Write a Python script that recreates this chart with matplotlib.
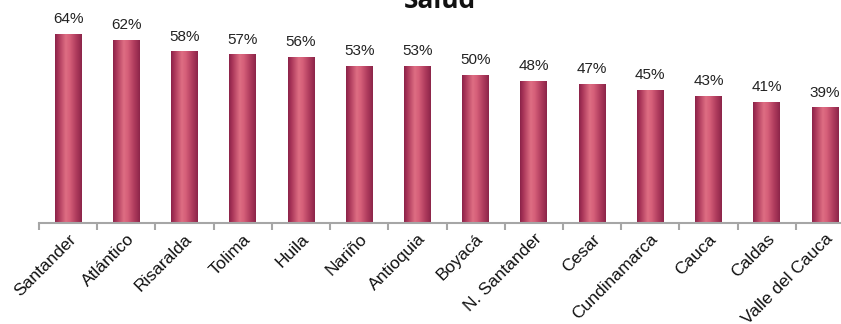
import numpy as np
import matplotlib
matplotlib.use("Agg")
import matplotlib.pyplot as plt
from matplotlib.colors import LinearSegmentedColormap

categories = ["Santander", "Atlántico", "Risaralda", "Tolima", "Huila", "Nariño",
              "Antioquia", "Boyacá", "N. Santander", "Cesar", "Cundinamarca",
              "Cauca", "Caldas", "Valle del Cauca"]
values = [64, 62, 58, 57, 56, 53, 53, 50, 48, 47, 45, 43, 41, 39]
title = "Salud"

plt.rcParams['font.family'] = ['Liberation Sans', 'DejaVu Sans']

fig = plt.figure(figsize=(8.41, 3.24), dpi=100)
ax = fig.add_axes([39/841, 101/324, (854-39)/841, 223/324])

x = np.arange(len(categories))
bars = ax.bar(x, values, width=0.46, color='none', edgecolor='none', zorder=2)

cmap = LinearSegmentedColormap.from_list('bar', [
    (0.00, '#8a2248'),
    (0.12, '#a83458'),
    (0.40, '#de6e83'),
    (0.55, '#d65f79'),
    (0.80, '#ad3a5c'),
    (1.00, '#8c2549'),
])
grad = np.linspace(0, 1, 256).reshape(1, -1)
for b in bars:
    x0, w, h = b.get_x(), b.get_width(), b.get_height()
    ax.imshow(grad, cmap=cmap, aspect='auto', extent=(x0, x0 + w, 0, h),
              interpolation='bilinear', zorder=2)

for b, v in zip(bars, values):
    ax.annotate(f"{v}%", (b.get_x() + b.get_width()/2, b.get_height()),
                xytext=(0, 6), textcoords='offset points', ha='center', va='bottom',
                fontsize=11, color='#222222')

ax.set_xlim(-0.5, len(categories) - 0.5)
ax.set_ylim(0, 75.6)
for s in ['left', 'right', 'top']:
    ax.spines[s].set_visible(False)
ax.spines['bottom'].set_color('#a6a6a6')
ax.spines['bottom'].set_linewidth(1.5)
ax.set_yticks([])
ax.set_xticks(x)
ax.set_xticklabels(categories, rotation=45, ha='right', rotation_mode='anchor',
                   fontsize=12.5, color='#111111')
ax.tick_params(axis='x', which='major', length=0, pad=6)
ax.set_xticks(np.arange(len(categories) + 1) - 0.5, minor=True)
ax.tick_params(axis='x', which='minor', length=5, width=1.5, color='#a6a6a6')

fig.text(0.523, 1 - 8/324, title, ha='center', va='baseline', fontsize=19,
         fontweight='bold', color='#111111', family=['Open Sans', 'DejaVu Sans'])

fig.savefig('out.png', dpi=100)
